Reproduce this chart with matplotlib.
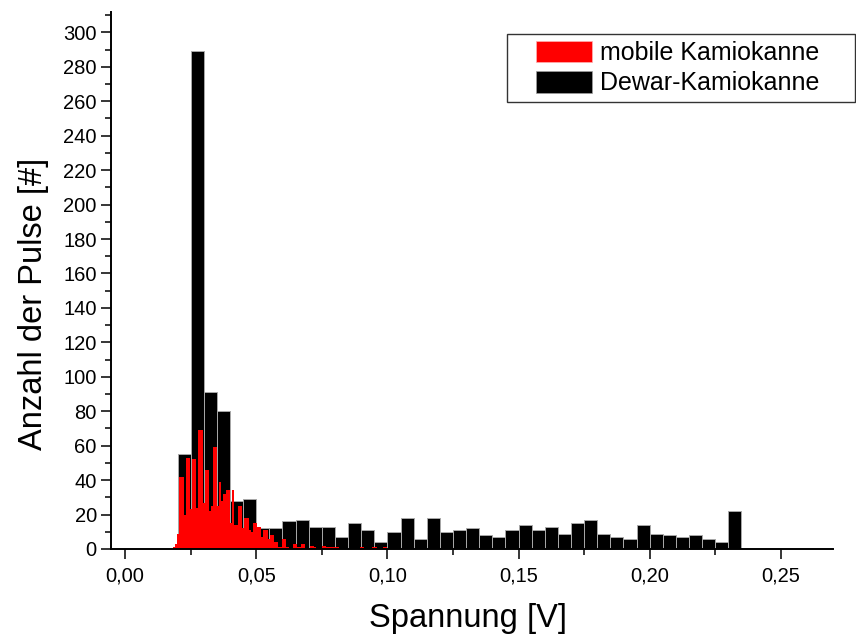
import numpy as np
import matplotlib
matplotlib.use('Agg')
import matplotlib.pyplot as plt
from matplotlib.patches import Patch
from matplotlib.legend_handler import HandlerPatch
from matplotlib.ticker import MultipleLocator

# ---------------- data ----------------
series_labels = ["mobile Kamiokanne", "Dewar-Kamiokanne"]

# Dewar-Kamiokanne histogram (bin start, bin width, counts)
dewar_start = 0.020
dewar_width = 0.005
dewar_counts = [55, 289, 91, 80, 28, 29, 12, 12, 16, 17, 13, 13, 7, 15, 11, 4,
                10, 18, 6, 18, 10, 11, 12, 8, 7, 11, 14, 11, 13, 9, 15, 17,
                9, 7, 6, 14, 9, 8, 7, 8, 6, 4, 22]

# mobile Kamiokanne histogram (bin start, bin width, counts)
mobile_start = 0.0183
mobile_width = 0.0008
mobile_counts = [1, 3, 9, 42, 42, 20, 53, 53, 23, 52,
                 52, 24, 69, 69, 27, 46, 46, 22, 25, 59,
                 59, 25, 39, 28, 32, 34, 34, 15, 34, 14,
                 14, 25, 25, 12, 18, 18, 11, 10, 15, 15,
                 13, 13, 7, 11, 11, 6, 8, 8, 4, 4,
                 1, 1, 6, 6, 1, 0, 0, 3, 3, 1,
                 1, 3, 3, 0, 0, 2, 2, 1, 0, 0,
                 0, 2, 2, 1, 1, 1, 1, 1, 1, 0,
                 0, 0, 0, 0, 0, 0, 0, 0, 0, 1,
                 1, 0, 0, 0, 0, 1, 1, 0, 0, 0,
                 1, 1]

x_ticks = [0.00, 0.05, 0.10, 0.15, 0.20, 0.25]
x_tick_labels = ["0,00", "0,05", "0,10", "0,15", "0,20", "0,25"]
y_ticks = list(range(0, 301, 20))

x_label = "Spannung [V]"
y_label = "Anzahl der Pulse [#]"

# ---------------- plot ----------------
plt.rcParams['font.family'] = ['Liberation Sans', 'DejaVu Sans']

W, H = 856, 635
fig = plt.figure(figsize=(W / 100, H / 100), dpi=100)
ax = fig.add_axes([110.7 / W, 1 - 549 / H, (833.3 - 110.7) / W, (549 - 11.7) / H])

dewar_left = dewar_start + dewar_width * np.arange(len(dewar_counts))
mobile_left = mobile_start + mobile_width * np.arange(len(mobile_counts))

ax.bar(dewar_left, dewar_counts, width=dewar_width, align='edge',
       color='black', edgecolor='#a8a8a8', linewidth=0.7, zorder=1.2)
ax.bar(mobile_left, mobile_counts, width=mobile_width, align='edge',
       color='#ff0000', linewidth=0, zorder=1.3)

ax.set_xlim(-0.0055, 0.27)
ax.set_ylim(0, 312)

for s in ['top', 'right']:
    ax.spines[s].set_visible(False)
for s in ['left', 'bottom']:
    ax.spines[s].set_linewidth(1.4)

ax.set_xticks(x_ticks)
ax.set_xticklabels(x_tick_labels)
ax.xaxis.set_minor_locator(MultipleLocator(0.025))
ax.set_yticks(y_ticks)
ax.yaxis.set_minor_locator(MultipleLocator(10))

ax.tick_params(which='major', direction='out', length=7.5, width=1.1, labelsize=14.5)
ax.tick_params(which='minor', direction='out', length=4, width=1.1)
ax.tick_params(axis='x', which='major', pad=5)
ax.tick_params(axis='y', which='major', pad=2.5)

ax.set_xlabel(x_label, fontsize=23.5)
ax.set_ylabel(y_label, fontsize=23.5)
ax.xaxis.set_label_coords(0.4938, -0.101)
ax.yaxis.set_label_coords(-0.086, 0.456)

# legend
handles = [Patch(facecolor='#ff0000', edgecolor='#ffb0b0', linewidth=0.5),
           Patch(facecolor='black', edgecolor='#a0a0a0', linewidth=0.5)]
fs = 18
leg = ax.legend(handles, series_labels, loc='upper left',
                bbox_to_anchor=(507 / W, 1 - 102.7 / H, (855 - 507) / W, 68.7 / H),
                bbox_transform=fig.transFigure, mode='expand', borderaxespad=0,
                fontsize=fs, frameon=True, fancybox=False, shadow=False,
                borderpad=0.27, labelspacing=0.24, handlelength=3.13,
                handleheight=0.95, handletextpad=0.3,
                handler_map={Patch: HandlerPatch(xpad=0.89)})
leg.get_frame().set_edgecolor('#333333')
leg.get_frame().set_linewidth(1.0)
leg.get_frame().set_alpha(1)

fig.savefig('out.png', dpi=100)
